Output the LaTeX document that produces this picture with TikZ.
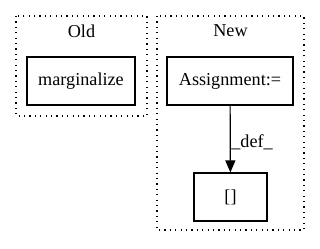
\documentclass[tikz,border=0pt]{standalone}
\usepackage{fontspec}
\setmainfont{Liberation Serif}
\usetikzlibrary{arrows.meta}
\begin{document}
\begin{tikzpicture}[x=1pt,y=-1pt,
  every node/.style={font=\fontsize{18.2}{21}\selectfont, inner sep=0pt},
  cluster/.style={draw, line width=1.1pt, dash pattern=on 1.2pt off 4.2pt},
  opbox/.style={draw, line width=1.2pt, rectangle},
  flow/.style={line width=1.2pt, -{Triangle[length=12pt,width=10pt]}}]
\useasboundingbox (0,0) rectangle (320,248);
% Old cluster
\draw[cluster] (16,16) rectangle (147,116);
\node (oldlabel) at (81.5,31) {Old};
\node[opbox, minimum width=108pt, minimum height=48pt] (marg) at (81,81) {marginalize};
% New cluster
\draw[cluster] (157,16) rectangle (304,230);
\node (newlabel) at (230.5,31) {New};
\node[opbox, minimum width=126pt, minimum height=48pt] (assign) at (230,81) {Assignment:=};
\node[opbox, minimum width=73pt, minimum height=48pt] (idx) at (230.5,197) {[]};
\draw[flow] (assign) -- (idx) node[midway, anchor=west, xshift=0.5pt, yshift=-3pt] (deflabel) {\_def\_};
\end{tikzpicture}
\end{document}
